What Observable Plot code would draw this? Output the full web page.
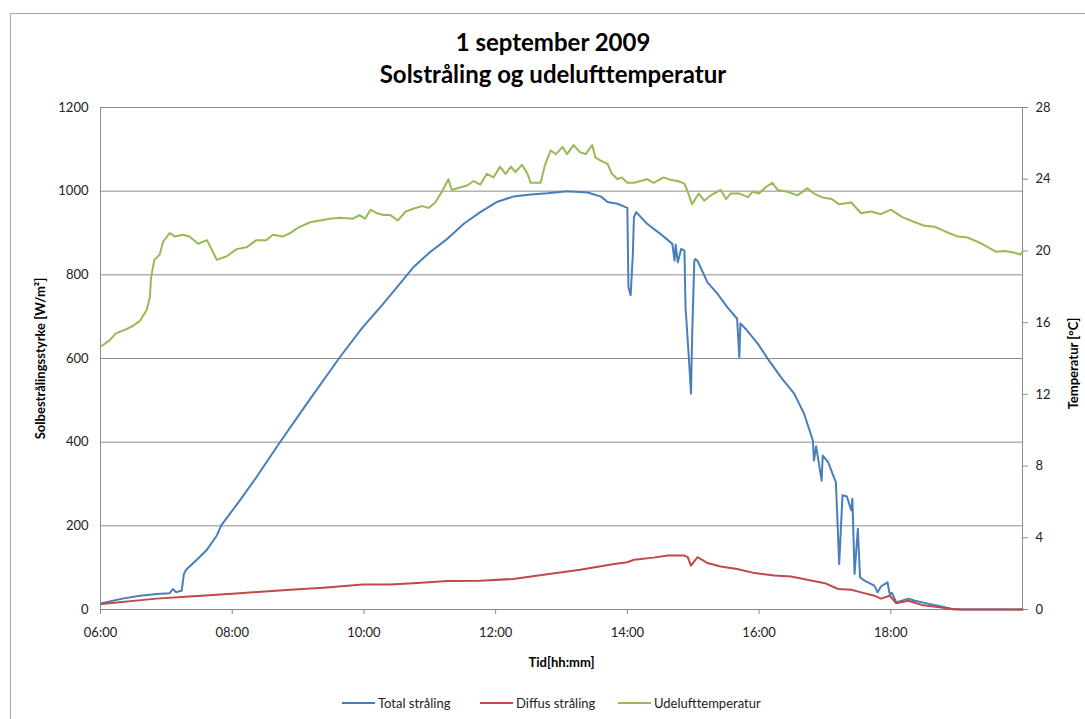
<!DOCTYPE html>
<html>
<head>
<meta charset="utf-8">
<script src="https://cdn.jsdelivr.net/npm/d3@7"></script>
<script src="https://cdn.jsdelivr.net/npm/@observablehq/plot@0.6"></script>
<style>
  html, body { margin: 0; padding: 0; background: #fff; }
  body { width: 1085px; height: 719px; position: relative; overflow: hidden; font-family: Lato, "Open Sans", sans-serif; }
  #frame { position: absolute; left: 10px; top: 13px; width: 1200px; height: 800px; border-left: 1px solid #a6a6a6; border-top: 1px solid #a6a6a6; pointer-events: none; z-index: 3; }
  #title { position: absolute; left: 0; top: 26px; width: 1106px; text-align: center; font-weight: bold; font-size: 24px; line-height: 32px; color: #000; }
  #chart { position: absolute; left: 0; top: 95px; }
  #legend { position: absolute; top: 694px; left: 0; width: 1085px; height: 18px; font-size: 13px; color: #222; }
  .item { position: absolute; top: 0; display: flex; align-items: center; height: 18px; }
  .sw { display: inline-block; width: 33px; height: 2px; margin-right: 3px; }
</style>
</head>
<body>
<div id="title">1 september 2009<br>Solstråling og udelufttemperatur</div>
<div id="chart"></div>
<div id="legend"></div>
<div id="frame"></div>
<script>
// ---- data ----
const seriesNames = ["Total stråling", "Diffus stråling", "Udelufttemperatur"];
const seriesColors = ["#4a7ebb", "#be4b48", "#98b954"];

const xTickLabels = ["06:00", "08:00", "10:00", "12:00", "14:00", "16:00", "18:00"];
const radiationTicks = [0, 200, 400, 600, 800, 1000, 1200];
const temperatureTicks = [0, 4, 8, 12, 16, 20, 24, 28];

const totalTimes = ["06:01","06:20","06:36","06:51","07:03","07:06","07:09","07:12","07:14","07:16","07:18","07:27","07:37","07:46","07:50","08:07","08:22","08:43","09:08","09:38","09:59","10:15","10:30","10:45","11:00","11:16","11:31","11:46","12:01","12:16","12:32","12:47","13:05","13:24","13:36","13:42","13:51","14:00","14:01","14:03","14:05","14:06","14:08","14:18","14:30","14:41","14:43","14:44","14:46","14:49","14:52","14:53","14:56","14:58","14:59","15:01","15:02","15:04","15:13","15:22","15:31","15:40","15:42","15:43","15:48","15:59","16:08","16:20","16:32","16:41","16:46","16:49","16:50","16:52","16:57","16:58","17:03","17:07","17:10","17:13","17:16","17:20","17:24","17:25","17:27","17:30","17:32","17:36","17:45","17:48","17:51","17:57","17:59","18:01","18:05","18:16","18:22","18:34","18:46","18:55","19:07","20:00"];
const totalValues = [15,26,33,37,39,49,41,44,45,85,95,117,143,177,201,261,316,398,492,603,675,723,770,818,854,886,922,950,974,987,992,995,1000,997,987,974,970,960,770,751,850,938,950,922,898,874,834,872,830,862,858,723,603,516,651,834,838,833,782,755,723,695,603,684,670,635,599,555,516,468,428,404,356,390,308,368,352,324,304,109,273,270,237,265,85,193,77,69,57,41,55,65,37,40,17,26,21,14,7,2,0,0];

const diffusTimes = ["06:01","06:51","07:21","08:07","08:53","09:23","09:59","10:24","10:45","11:16","11:46","12:16","12:47","13:17","13:48","14:00","14:06","14:24","14:37","14:52","14:55","14:58","15:00","15:04","15:13","15:25","15:40","15:56","16:14","16:29","16:44","17:00","17:12","17:24","17:33","17:45","17:51","17:59","18:05","18:16","18:28","18:46","18:58","20:00"];
const diffusValues = [13,26,31,39,47,52,60,60,63,68,69,73,84,95,109,113,119,124,129,129,125,105,112,125,111,103,97,87,81,79,71,63,49,47,41,33,26,33,15,21,11,5,0,0];

const tempTimes = ["06:01","06:08","06:14","06:22","06:29","06:36","06:42","06:45","06:46","06:49","06:54","06:57","07:03","07:08","07:15","07:21","07:29","07:37","07:46","07:55","08:04","08:13","08:22","08:31","08:37","08:46","08:53","09:00","09:11","09:20","09:29","09:38","09:50","09:56","10:01","10:06","10:12","10:18","10:24","10:31","10:38","10:45","10:53","10:59","11:05","11:11","11:17","11:20","11:25","11:34","11:40","11:46","11:52","11:58","12:04","12:09","12:14","12:18","12:24","12:29","12:32","12:41","12:45","12:50","12:55","13:01","13:05","13:11","13:17","13:22","13:28","13:31","13:37","13:42","13:46","13:51","13:55","14:00","14:06","14:12","14:18","14:24","14:33","14:40","14:46","14:52","14:55","14:59","15:05","15:10","15:16","15:25","15:30","15:34","15:42","15:50","15:54","16:00","16:06","16:12","16:17","16:26","16:35","16:44","16:50","16:57","17:06","17:13","17:24","17:33","17:42","17:51","18:00","18:10","18:22","18:31","18:40","18:49","19:01","19:10","19:23","19:36","19:44","19:53","19:58","20:00"];
const tempValues = [14.7,15.0,15.4,15.6,15.8,16.1,16.7,17.4,18.5,19.5,19.8,20.5,21.0,20.8,20.9,20.8,20.4,20.6,19.5,19.7,20.1,20.2,20.6,20.6,20.9,20.8,21.0,21.3,21.6,21.7,21.8,21.85,21.8,22.0,21.8,22.3,22.1,22.0,22.0,21.7,22.2,22.35,22.5,22.4,22.7,23.3,24.0,23.4,23.5,23.65,23.9,23.7,24.3,24.1,24.7,24.3,24.7,24.4,24.8,24.3,23.8,23.8,24.8,25.6,25.4,25.8,25.4,25.9,25.5,25.4,25.9,25.2,25.0,24.85,24.3,24.0,24.1,23.8,23.8,23.9,24.0,23.8,24.1,23.95,23.9,23.75,23.3,22.6,23.2,22.8,23.1,23.4,22.9,23.2,23.2,23.0,23.3,23.2,23.55,23.8,23.4,23.3,23.1,23.5,23.2,23.0,22.9,22.6,22.7,22.1,22.2,22.05,22.3,21.9,21.6,21.4,21.35,21.1,20.8,20.75,20.4,19.95,20.0,19.9,19.8,19.95];

// ---- build ----
const parse = d3.utcParse("%H:%M");
const fmt = d3.utcFormat("%H:%M");
const K = 1200 / 28; // temperature -> radiation scale factor (secondary axis)

const zip = (ts, vs) => ts.map((t, i) => ({t: parse(t), v: vs[i]}));
const total = zip(totalTimes, totalValues);
const diffus = zip(diffusTimes, diffusValues);
const temp = zip(tempTimes, tempValues);

const axisColor = "#8c8c8c";
const xDomain = [parse("06:00"), parse("20:00")];
const titleStyle = {fontWeight: "bold", fontSize: 13, fill: "#000", textAnchor: "middle", lineAnchor: "middle"};

const chart = Plot.plot({
  width: 1085,
  height: 585,
  marginTop: 12,
  marginBottom: 71,
  marginLeft: 100,
  marginRight: 63,
  style: {fontFamily: "Lato, 'Open Sans', sans-serif", fontSize: "13px", color: "#222", background: "transparent"},
  x: {type: "utc", domain: xDomain},
  y: {domain: [0, 1200]},
  marks: [
    Plot.ruleY(radiationTicks.filter(d => d > 0), {stroke: axisColor, strokeWidth: 1}),
    Plot.ruleX(xDomain, {stroke: axisColor, strokeWidth: 1}),
    Plot.ruleY([0], {stroke: axisColor, strokeWidth: 1}),
    Plot.axisY(radiationTicks, {anchor: "left", tickSize: 0, tickPadding: 12, tickFormat: d => String(d), label: null}),
    Plot.axisY(temperatureTicks.map(t => t * K), {anchor: "right", tickSize: 5, tickPadding: 8, stroke: axisColor, tickFormat: d => String(Math.round(d / K)), label: null}),
    Plot.axisX(xTickLabels.map(parse), {anchor: "bottom", tickSize: 5, tickPadding: 13, stroke: axisColor, tickFormat: fmt, label: null}),
    Plot.line(total, {x: "t", y: "v", stroke: seriesColors[0], strokeWidth: 2}),
    Plot.line(diffus, {x: "t", y: "v", stroke: seriesColors[1], strokeWidth: 2}),
    Plot.line(temp, {x: "t", y: d => d.v * K, stroke: seriesColors[2], strokeWidth: 2}),
    Plot.text(["Tid[hh:mm]"], {frameAnchor: "bottom", dy: 53, ...titleStyle}),
    Plot.text(["Solbestrålingsstyrke [W/m²]"], {frameAnchor: "left", dx: -60, rotate: -90, ...titleStyle}),
    Plot.text(["Temperatur [°C]"], {frameAnchor: "right", dx: 51, dy: 5, rotate: -90, ...titleStyle})
  ]
});
document.getElementById("chart").appendChild(chart);

// legend
const legendX = [342, 480, 618];
const legend = document.getElementById("legend");
seriesNames.forEach((name, i) => {
  const item = document.createElement("div");
  item.className = "item";
  item.style.left = legendX[i] + "px";
  const sw = document.createElement("span");
  sw.className = "sw";
  sw.style.background = seriesColors[i];
  item.appendChild(sw);
  item.appendChild(document.createTextNode(name));
  legend.appendChild(item);
});
</script>
</body>
</html>
